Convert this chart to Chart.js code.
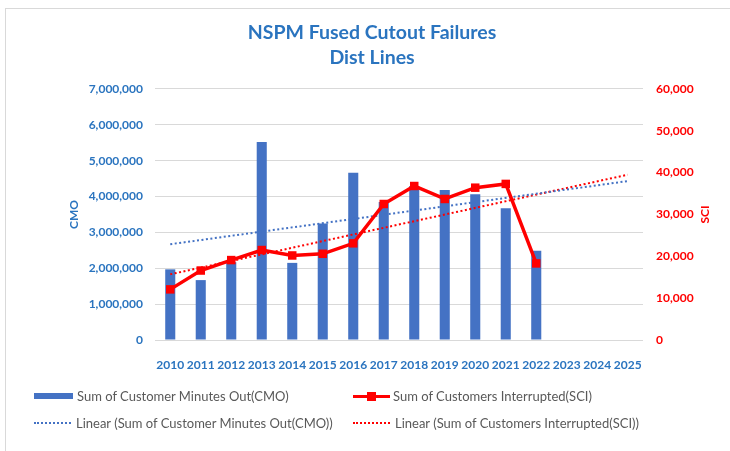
<!DOCTYPE html>
<html>
<head>
<meta charset="utf-8">
<title>NSPM Fused Cutout Failures</title>
<script src="https://cdn.jsdelivr.net/npm/chart.js@4.4.1/dist/chart.umd.min.js"></script>
<style>
    body { margin: 0; background: #fff; }
    #wrap { position: relative; width: 730px; height: 451px; overflow: hidden; background: #fff; }
    #frame { position: absolute; left: 5px; top: 8px; width: 760px; height: 480px; border: 1px solid #d9d9d9; }
    #chart { position: absolute; left: 0; top: 0; }
    #legend {
        position: absolute; left: 34px; top: 387px;
        display: grid; grid-template-columns: 319px auto; row-gap: 9px;
        font: 13px Lato, sans-serif; color: #595959;
    }
    .item { display: flex; align-items: center; height: 18px; white-space: nowrap; }
    .sw { position: relative; margin-right: 4px; }
    .sw.bar { width: 39px; height: 6px; }
    .sw.line { width: 37px; height: 3px; margin-right: 3px; }
    .sw.line i { position: absolute; left: 14px; top: -3px; width: 9px; height: 9px; }
    .sw.dots { width: 37px; height: 0; border-top: 2px dotted; margin-right: 5px; }
</style>
</head>
<body>
<div id="wrap">
    <div id="frame"></div>
    <canvas id="chart" width="730" height="451"></canvas>
    <div id="legend"></div>
</div>
<script>
// Categories
const years = ['2010', '2011', '2012', '2013', '2014', '2015', '2016', '2017',
               '2018', '2019', '2020', '2021', '2022', '2023', '2024', '2025'];

// Sum of Customer Minutes Out (left axis)
const cmoValues = [1970000, 1670000, 2170000, 5520000, 2150000, 3250000, 4660000,
                   3850000, 4290000, 4180000, 4060000, 3670000, 2490000];

// Sum of Customers Interrupted (right axis)
const sciValues = [12100, 16600, 19100, 21500, 20200, 20600, 23100,
                   32500, 36800, 33700, 36400, 37300, 18300];

// Linear trendline values at 2010 and 2025
const cmoTrendEnds = [2670000, 4430000];
const sciTrendEnds = [15700, 39500];

// Axis ranges
const cmoAxis = [0, 7000000, 1000000];
const sciAxis = [0, 60000, 10000];

const titleLines = ['NSPM Fused Cutout Failures', 'Dist Lines'];
const seriesNames = [
    'Sum of Customer Minutes Out(CMO)',
    'Sum of Customers Interrupted(SCI)',
    'Linear (Sum of Customer Minutes Out(CMO))',
    'Linear (Sum of Customers Interrupted(SCI))'
];

const BLUE = '#4472C4';
const TEXT_BLUE = '#2A74BF';
const RED = '#FF0000';

// trendline only has the two end points, the line spans the gap
function trendSeries(ends) {
    return years.map((y, i) => {
        if (i === 0) return ends[0];
        if (i === years.length - 1) return ends[1];
        return null;
    });
}

const tickFont = { family: 'Lato', size: 12, weight: 'bold' };

// Excel writes the right axis title bottom-to-top, Chart.js turns it the other way
const rightTitle = {
    id: 'rightTitle',
    afterDraw(chart) {
        const s = chart.scales.y1;
        const c = chart.ctx;
        c.save();
        c.translate(705, (s.top + s.bottom) / 2);
        c.rotate(-Math.PI / 2);
        c.font = 'bold 12px Lato';
        c.fillStyle = RED;
        c.textAlign = 'center';
        c.textBaseline = 'middle';
        c.fillText('SCI', 0, 0);
        c.restore();
    }
};

const ctx = document.getElementById('chart').getContext('2d');
const chart = new Chart(ctx, {
    type: 'bar',
    data: {
        labels: years,
        datasets: [
            {
                type: 'line',
                label: seriesNames[1],
                data: sciValues,
                yAxisID: 'y1',
                borderColor: RED,
                backgroundColor: RED,
                borderWidth: 3.5,
                pointStyle: 'rect',
                pointRadius: 6,
                pointBorderWidth: 0,
                tension: 0,
                order: 0
            },
            {
                type: 'line',
                label: seriesNames[2],
                data: trendSeries(cmoTrendEnds),
                yAxisID: 'y',
                borderColor: BLUE,
                borderWidth: 2,
                borderDash: [2, 2.5],
                pointRadius: 0,
                spanGaps: true,
                order: 1
            },
            {
                type: 'line',
                label: seriesNames[3],
                data: trendSeries(sciTrendEnds),
                yAxisID: 'y1',
                borderColor: RED,
                borderWidth: 2,
                borderDash: [2, 2.5],
                pointRadius: 0,
                spanGaps: true,
                order: 1
            },
            {
                type: 'bar',
                label: seriesNames[0],
                data: cmoValues,
                yAxisID: 'y',
                backgroundColor: BLUE,
                barPercentage: 0.33,
                categoryPercentage: 1,
                order: 2
            }
        ]
    },
    options: {
        responsive: false,
        animation: false,
        layout: { padding: { left: 14, right: 0, top: 0, bottom: 81 } },
        plugins: {
            legend: { display: false },
            tooltip: { enabled: false },
            title: {
                display: true,
                text: titleLines,
                color: TEXT_BLUE,
                font: { family: 'Lato', size: 19.5, weight: 'bold', lineHeight: 1.28 },
                padding: { top: 20.5, bottom: 18.5 }
            }
        },
        scales: {
            x: {
                grid: { display: false },
                border: { display: false },
                ticks: { color: TEXT_BLUE, font: tickFont, padding: 10, maxRotation: 0, autoSkip: false },
                afterFit: scale => { scale.height = 30; }
            },
            y: {
                position: 'left',
                min: cmoAxis[0],
                max: cmoAxis[1],
                ticks: {
                    stepSize: cmoAxis[2],
                    color: TEXT_BLUE,
                    font: tickFont,
                    padding: 12,
                    callback: v => v.toLocaleString('en-US')
                },
                grid: { color: '#d9d9d9', drawTicks: false },
                border: { display: false },
                title: { display: true, text: 'CMO', color: TEXT_BLUE, font: tickFont, padding: { top: 53, bottom: 0 } },
                afterFit: scale => { scale.width = 141; }
            },
            y1: {
                position: 'right',
                min: sciAxis[0],
                max: sciAxis[1],
                ticks: {
                    stepSize: sciAxis[2],
                    color: RED,
                    font: tickFont,
                    padding: 13,
                    callback: v => v.toLocaleString('en-US')
                },
                grid: { display: false, drawTicks: false },
                border: { display: false },
                afterFit: scale => { scale.width = 87; }
            }
        }
    },
    plugins: [rightTitle]
});

// HTML legend in the Excel two-column layout
const legend = document.getElementById('legend');
const legendOrder = [3, 0, 1, 2]; // dataset indexes: CMO bar, SCI line, CMO trend, SCI trend
legendOrder.forEach(idx => {
    const ds = chart.data.datasets[idx];
    const item = document.createElement('div');
    item.className = 'item';
    const sw = document.createElement('span');
    if (ds.type === 'bar') {
        sw.className = 'sw bar';
        sw.style.background = ds.backgroundColor;
    } else if (ds.borderDash) {
        sw.className = 'sw dots';
        sw.style.borderTopColor = ds.borderColor;
    } else {
        sw.className = 'sw line';
        sw.style.background = ds.borderColor;
        const mark = document.createElement('i');
        mark.style.background = ds.borderColor;
        sw.appendChild(mark);
    }
    item.appendChild(sw);
    item.appendChild(document.createTextNode(ds.label));
    legend.appendChild(item);
});
</script>
</body>
</html>
